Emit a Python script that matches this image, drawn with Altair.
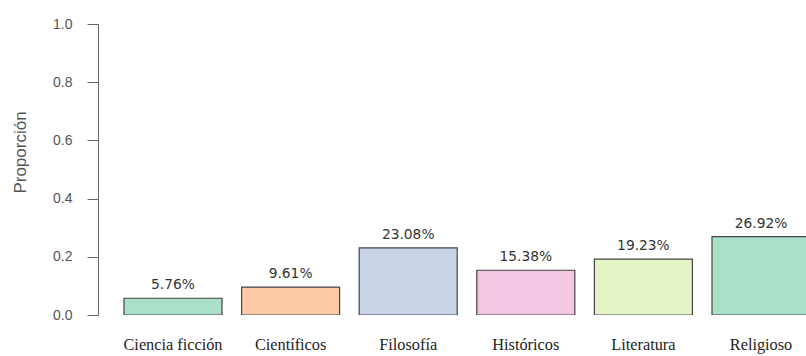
import altair as alt
import pandas as pd

categories = ["Ciencia ficción", "Científicos", "Filosofía", "Históricos", "Literatura", "Religioso"]
proportions = [0.0576, 0.0961, 0.2308, 0.1538, 0.1923, 0.2692]
pct_labels = ["5.76%", "9.61%", "23.08%", "15.38%", "19.23%", "26.92%"]
colors = ["#ABE0C8", "#FDCBA8", "#C9D3E8", "#F4C6E2", "#E4F4C6", "#ABE0C8"]
y_ticks = [0.0, 0.2, 0.4, 0.6, 0.8, 1.0]

df = pd.DataFrame({"cat": categories, "p": proportions, "lab": pct_labels})

x = alt.X(
    "cat:N",
    sort=categories,
    title=None,
    scale=alt.Scale(range=[26, 712], paddingInner=0.1667, paddingOuter=0),
    axis=alt.Axis(
        domain=False, ticks=False, labelAngle=0, labelFont="Liberation Serif",
        labelFontSize=16.3, labelColor="#222", labelPadding=21,
    ),
)

y = alt.Y(
    "p:Q",
    title="Proporción",
    scale=alt.Scale(domain=[0, 1], nice=False, zero=True),
    axis=alt.Axis(
        values=y_ticks, format=".1f", grid=False, domainColor="#666", tickColor="#666",
        tickSize=11, labelPadding=15, labelFont="Liberation Sans", labelFontSize=14,
        labelColor="#555", titleFont="Liberation Sans", titleFontSize=17,
        titleFontWeight="normal", titleColor="#555", titleX=-78, titleY=128,
        titleBaseline="middle", titleAlign="center", titleAngle=-90,
    ),
)

bars = alt.Chart(df).mark_bar(stroke="#444", strokeWidth=1.2, clip=True).encode(
    x=x,
    y=y,
    color=alt.Color("cat:N", scale=alt.Scale(domain=categories, range=colors), legend=None),
)

text = alt.Chart(df).mark_text(
    baseline="bottom", dy=-6, font="DejaVu Sans", fontSize=13.8, color="#333"
).encode(
    x=alt.X("cat:N", sort=categories),
    y=alt.Y("p:Q"),
    text="lab:N",
)

chart = (
    alt.layer(bars, text)
    .properties(
        width=708,
        height=291,
        autosize=alt.AutoSizeParams(type="none"),
        padding={"left": 98, "top": 24, "right": 0, "bottom": 41},
        background="white",
    )
    .configure_view(stroke=None)
)

chart.save("out.html", embed_options={"renderer": "svg", "actions": False})
